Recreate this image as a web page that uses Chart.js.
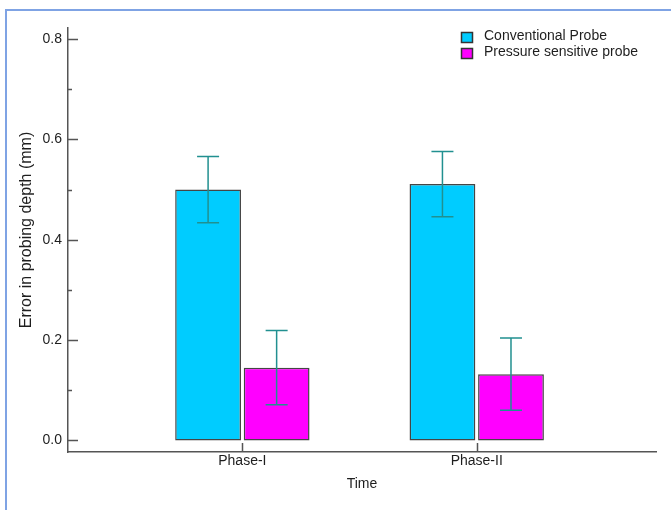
<!DOCTYPE html>
<html>
<head>
<meta charset="utf-8">
<script src="https://cdn.jsdelivr.net/npm/chart.js@4.4.1/dist/chart.umd.min.js"></script>
<style>
  html, body { margin: 0; padding: 0; background: #ffffff; }
  #wrap { position: relative; width: 671px; height: 510px; overflow: hidden; }
  #frame { position: absolute; left: 5px; top: 9px; right: -4px; bottom: -4px;
           border-top: 2px solid #7fa3e4; border-left: 2px solid #7fa3e4; }
  canvas { position: absolute; left: 0; top: 0; }
</style>
</head>
<body>
<div id="wrap">
  <div id="frame"></div>
  <canvas id="chart" width="671" height="510"></canvas>
</div>
<script>
// Measurement phases along the x axis
const categories = ['Phase-I', 'Phase-II'];

// Mean probing-depth error (mm) and its error-bar half width
const conventionalMean = [0.500, 0.511];
const conventionalErr  = [0.066, 0.065];
const pressureMean     = [0.145, 0.132];
const pressureErr      = [0.074, 0.072];

// Tick values on the y axis
const yMajorTicks = [0.0, 0.2, 0.4, 0.6, 0.8];
const yMinorTicks = [0.1, 0.3, 0.5, 0.7];

const FONT = '"Liberation Sans", Arial, sans-serif';
const TEXT = '#1e1e1e';
const AXIS = '#555555';

const datasets = [
  {
    label: 'Conventional Probe',
    data: categories.map((c, i) => ({ x: i + 1, y: conventionalMean[i] })),
    errors: conventionalErr,
    backgroundColor: '#00ccff',
    borderColor: '#454545',
    borderWidth: 1.5,
    borderSkipped: false
  },
  {
    label: 'Pressure sensitive probe',
    data: categories.map((c, i) => ({ x: i + 1, y: pressureMean[i] })),
    errors: pressureErr,
    backgroundColor: '#ff00ff',
    borderColor: '#454545',
    borderWidth: 1.5,
    borderSkipped: false
  }
];

// Error bars, inward tick marks, y-axis title and legend
const decorations = {
  id: 'decorations',
  afterDatasetsDraw(chart) {
    const ctx = chart.ctx;
    const y = chart.scales.y;
    ctx.save();
    ctx.strokeStyle = '#219090';
    ctx.lineWidth = 1.5;
    chart.data.datasets.forEach((ds, di) => {
      const meta = chart.getDatasetMeta(di);
      meta.data.forEach((bar, i) => {
        const v = ds.data[i].y, e = ds.errors[i];
        const top = y.getPixelForValue(v + e);
        const bot = y.getPixelForValue(v - e);
        const cx = bar.x, half = 11;
        ctx.beginPath();
        ctx.moveTo(cx, top); ctx.lineTo(cx, bot);
        ctx.moveTo(cx - half, top); ctx.lineTo(cx + half, top);
        ctx.moveTo(cx - half, bot); ctx.lineTo(cx + half, bot);
        ctx.stroke();
      });
    });
    ctx.restore();
  },
  afterDraw(chart) {
    const ctx = chart.ctx;
    const { x, y } = chart.scales;
    const area = chart.chartArea;
    ctx.save();
    ctx.strokeStyle = AXIS;
    ctx.lineWidth = 1.5;
    ctx.beginPath();
    yMajorTicks.forEach(v => {
      const py = Math.round(y.getPixelForValue(v)) + 0.5;
      ctx.moveTo(area.left, py); ctx.lineTo(area.left + 10, py);
    });
    yMinorTicks.forEach(v => {
      const py = Math.round(y.getPixelForValue(v)) + 0.5;
      ctx.moveTo(area.left, py); ctx.lineTo(area.left + 4, py);
    });
    categories.forEach((c, i) => {
      const px = Math.round(x.getPixelForValue(i + 1)) + 0.5;
      ctx.moveTo(px, area.bottom); ctx.lineTo(px, area.bottom - 9);
    });
    ctx.stroke();

    // y-axis title
    ctx.fillStyle = TEXT;
    ctx.font = '16px ' + FONT;
    ctx.textAlign = 'center';
    ctx.textBaseline = 'middle';
    ctx.translate(27, 230);
    ctx.rotate(-Math.PI / 2);
    ctx.fillText('Error in probing depth (mm)', 0, 0);
    ctx.setTransform(1, 0, 0, 1, 0, 0);

    // legend
    ctx.font = '14px ' + FONT;
    ctx.textAlign = 'left';
    chart.data.datasets.forEach((ds, i) => {
      const ly = 37 + i * 16;
      ctx.fillStyle = ds.backgroundColor;
      ctx.fillRect(461.5, ly - 4.5, 11, 10);
      ctx.strokeStyle = '#333333';
      ctx.lineWidth = 1.5;
      ctx.strokeRect(461.5, ly - 4.5, 11, 10);
      ctx.fillStyle = TEXT;
      ctx.fillText(ds.label, 484, ly - 1);
    });
    ctx.restore();
  }
};

new Chart(document.getElementById('chart'), {
  type: 'bar',
  data: { datasets },
  options: {
    responsive: false,
    animation: false,
    devicePixelRatio: 1,
    categoryPercentage: 0.585,
    barPercentage: 0.96,
    layout: { padding: { top: 28, right: 15, left: 0, bottom: 0 } },
    plugins: {
      legend: { display: false },
      tooltip: { enabled: false }
    },
    scales: {
      x: {
        type: 'linear',
        offset: false,
        min: 0.256,
        max: 2.765,
        afterBuildTicks(scale) { scale.ticks = categories.map((c, i) => ({ value: i + 1 })); },
        afterFit(scale) { scale.height = 58; },
        grid: { display: false, drawTicks: false, offset: false },
        border: { display: true, color: AXIS, width: 1.5 },
        ticks: {
          padding: 1,
          color: TEXT,
          font: { family: FONT, size: 14 },
          maxRotation: 0,
          callback: v => categories[v - 1] ?? ''
        },
        title: {
          display: true,
          text: 'Time',
          color: TEXT,
          font: { family: FONT, size: 14 },
          padding: { top: 17, bottom: 17 }
        }
      },
      y: {
        min: -0.023,
        max: 0.822,
        afterBuildTicks(scale) { scale.ticks = yMajorTicks.map(v => ({ value: v })); },
        afterFit(scale) { scale.width = 68; },
        grid: { display: false, drawTicks: false },
        border: { display: true, color: AXIS, width: 1.5 },
        ticks: {
          padding: 6,
          color: TEXT,
          font: { family: FONT, size: 14 },
          callback: v => v.toFixed(1)
        }
      }
    }
  },
  plugins: [decorations]
});
</script>
</body>
</html>
